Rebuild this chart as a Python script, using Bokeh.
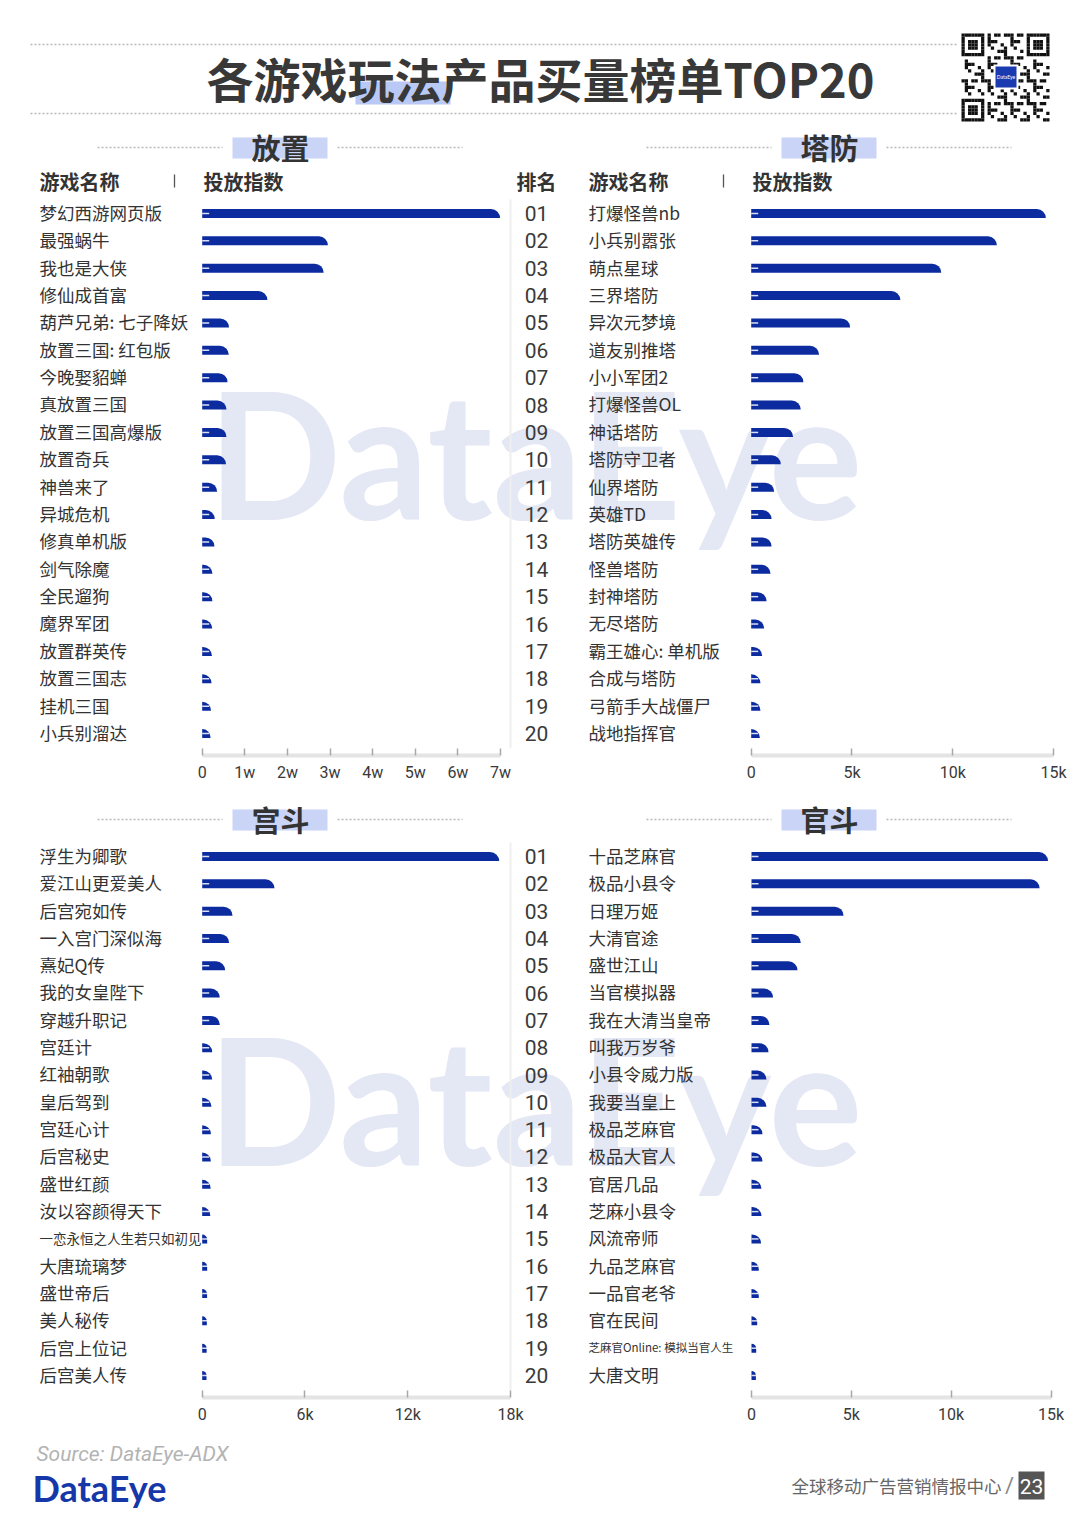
from bokeh.plotting import figure
from bokeh.layouts import column, row
from bokeh.models import Range1d, FixedTicker
from bokeh.core.properties import value
from bokeh.embed import file_html
from bokeh.resources import INLINE

# ---------------- data ----------------
title_text = "各游戏玩法产品买量榜单TOP20"
section_titles = ["放置", "塔防", "宫斗", "官斗"]
col_name_header = "游戏名称"
col_value_header = "投放指数"
rank_header = "排名"
rank_labels = ["01", "02", "03", "04", "05", "06", "07", "08", "09", "10",
               "11", "12", "13", "14", "15", "16", "17", "18", "19", "20"]

idle_names = ["梦幻西游网页版", "最强蜗牛", "我也是大侠", "修仙成首富", "葫芦兄弟: 七子降妖",
              "放置三国: 红包版", "今晚娶貂蝉", "真放置三国", "放置三国高爆版", "放置奇兵",
              "神兽来了", "异城危机", "修真单机版", "剑气除魔", "全民遛狗",
              "魔界军团", "放置群英传", "放置三国志", "挂机三国", "小兵别溜达"]
idle_vals = [69900, 29500, 28500, 15300, 6300, 6250, 5950, 5700, 5700, 5600,
             3500, 2950, 2880, 2420, 2380, 2350, 2300, 2200, 2050, 1950]

td_names = ["打爆怪兽nb", "小兵别嚣张", "萌点星球", "三界塔防", "异次元梦境",
            "道友别推塔", "小小军团2", "打爆怪兽OL", "神话塔防", "塔防守卫者",
            "仙界塔防", "英雄TD", "塔防英雄传", "怪兽塔防", "封神塔防",
            "无尽塔防", "霸王雄心: 单机版", "合成与塔防", "弓箭手大战僵尸", "战地指挥官"]
td_vals = [14620, 12190, 9430, 7400, 4910, 3370, 2590, 2460, 2080, 1470,
           1140, 1010, 1010, 960, 760, 645, 545, 460, 460, 430]

palace_names = ["浮生为卿歌", "爱江山更爱美人", "后宫宛如传", "一入宫门深似海", "熹妃Q传",
                "我的女皇陛下", "穿越升职记", "宫廷计", "红袖朝歌", "皇后驾到",
                "宫廷心计", "后宫秘史", "盛世红颜", "汝以容颜得天下", "一恋永恒之人生若只如初见",
                "大唐琉璃梦", "盛世帝后", "美人秘传", "后宫上位记", "后宫美人传"]
palace_vals = [17340, 4220, 1770, 1575, 1340, 1030, 1030, 585, 585, 545,
               505, 500, 490, 470, 290, 290, 285, 270, 260, 250]

official_names = ["十品芝麻官", "极品小县令", "日理万姬", "大清官途", "盛世江山",
                  "当官模拟器", "我在大清当皇帝", "叫我万岁爷", "小县令威力版", "我要当皇上",
                  "极品芝麻官", "极品大官人", "官居几品", "芝麻小县令", "风流帝师",
                  "九品芝麻官", "一品官老爷", "官在民间", "芝麻官Online: 模拟当官人生", "大唐文明"]
official_vals = [14850, 14430, 4610, 2470, 2305, 1085, 900, 850, 750, 750,
                 550, 550, 500, 500, 480, 365, 365, 285, 235, 220]

idle_ticks = [0, 10000, 20000, 30000, 40000, 50000, 60000, 70000]
idle_tick_labels = ["0", "1w", "2w", "3w", "4w", "5w", "6w", "7w"]
td_ticks = [0, 5000, 10000, 15000]
td_tick_labels = ["0", "5k", "10k", "15k"]
palace_ticks = [0, 6000, 12000, 18000]
palace_tick_labels = ["0", "6k", "12k", "18k"]
official_ticks = [0, 5000, 10000, 15000]
official_tick_labels = ["0", "5k", "10k", "15k"]

source_text = "Source: DataEye-ADX"
brand_text = "DataEye"
footer_text = "全球移动广告营销情报中心"
page_no = "23"

# ---------------- style ----------------
CJK = "Noto Sans CJK SC"
NUM = "Roboto"
COND = "Roboto"
DARK = "#333333"
BAR = "#0b2b9f"
WM = "#e4e7f4"
HL = "#c9d4f6"
DOT = "#b8b8b8"
AXB = 35
TICK_IN = 7
PAGE_W = 1080
SPLIT = 565
small_name_sizes = {"一恋永恒之人生若只如初见": "13.5px", "芝麻官Online: 模拟当官人生": "11.5px"}


def txt(p, xs, ys, texts, size, color=DARK, font=CJK, style="normal", align="left",
        baseline="middle", x_offset=0, rn="default"):
    p.text(x=xs, y=ys, text=texts, text_font=value(font), text_font_size=size,
           text_color=color, text_font_style=style, text_align=align,
           text_baseline=baseline, x_offset=x_offset, x_range_name=rn)


def scale(zero_px, max_px, max_val):
    k = max_val / (max_px - zero_px)
    return lambda px: (px - zero_px) * k


def page_fig(y0, y1):
    p = figure(width=PAGE_W, height=y1 - y0, x_range=Range1d(0, PAGE_W), y_range=Range1d(y1, y0),
               output_backend="svg", toolbar_location=None, x_axis_location=None,
               y_axis_location=None, min_border=0)
    p.outline_line_color = None
    p.grid.visible = False
    return p


def body(fy0, fy1, row1, row20, charts, head_y, with_headers, wm_top):
    XL = charts[0]["X"]
    XR = charts[1]["X"]
    step = (row20 - row1) / (len(rank_labels) - 1)

    def Y(py):
        return 1 + (py - row1) / step

    p = figure(width=PAGE_W, height=fy1 - fy0,
               x_range=Range1d(XL(0), XL(PAGE_W)), y_range=Range1d(Y(fy1), Y(fy0)),
               output_backend="svg", toolbar_location=None, x_axis_location=None,
               y_axis_location=None, min_border=0)
    p.extra_x_ranges = {"r": Range1d(XR(0), XR(PAGE_W))}
    p.outline_line_color = None
    p.grid.visible = False

    # watermark
    txt(p, [XL(207)], [Y(wm_top)], [brand_text], "176px", color=WM, font="Lato",
        style="bold", baseline="middle")
    # faint separator
    p.segment(x0=[XL(510)], x1=[XL(510)], y0=[Y(row1 - 14)], y1=[Y(fy1)],
              line_color="#efefef", line_width=2)

    for c, rn in zip(charts, ["default", "r"]):
        X = c["X"]
        cx, nx = c["head_cx"], c["name_x"]
        p.quad(left=[X(cx - 48)], right=[X(cx + 47)], top=[Y(head_y - 10)],
               bottom=[Y(head_y + 11)], fill_color=HL, line_color=None, x_range_name=rn)
        txt(p, [X(cx)], [Y(head_y - 1)], [c["heading"]], "29px", style="bold", align="center", rn=rn)
        p.segment(x0=[X(cx - 183), X(cx + 57)], x1=[X(cx - 58), X(cx + 182)],
                  y0=[Y(head_y)] * 2, y1=[Y(head_y)] * 2, line_color=DOT, line_width=1.3,
                  line_dash="2 2", x_range_name=rn)
        if with_headers:
            hy = 181
            txt(p, [X(nx)], [Y(hy)], [col_name_header], "20px", style="bold", rn=rn)
            txt(p, [X(nx + 164)], [Y(hy)], [col_value_header], "20px", style="bold", rn=rn)
            p.segment(x0=[X(nx + 135)], x1=[X(nx + 135)], y0=[Y(hy - 7)], y1=[Y(hy + 6)],
                      line_color="#555555", line_width=1.3, x_range_name=rn)

        names, vals = c["names"], c["vals"]
        ys = list(range(1, len(names) + 1))
        p.hbar(y=ys, left=0, right=vals, height=9 / step, fill_color=BAR, line_color=None,
               border_radius=dict(top_left=0, top_right=9, bottom_right=0, bottom_left=0),
               x_range_name=rn)
        p.segment(x0=[0] * len(ys), x1=[X(c["zero"] + 7)] * len(ys), y0=ys, y1=ys,
                  line_color="white", line_width=1.5, line_alpha=0.85, x_range_name=rn)
        sizes = [small_name_sizes.get(n, "17.5px") for n in names]
        txt(p, [X(nx)] * len(ys), [y - 0.04 for y in ys], names, sizes, rn=rn)

    if with_headers:
        txt(p, [XL(536)], [Y(181)], [rank_header], "20px", style="bold", align="center")
    ys = list(range(1, len(rank_labels) + 1))
    txt(p, [XL(536)] * len(ys), ys, rank_labels, "21px", color="#3a3a3a", font=COND, align="center")
    return p


def axis_fig(fx0, fx1, fy0, fy1, X, ticks, labels):
    p = figure(width=fx1 - fx0, height=fy1 - fy0, x_range=Range1d(X(fx0), X(fx1)),
               y_range=Range1d(0, 1), output_backend="svg", toolbar_location=None,
               y_axis_location=None, min_border_left=0, min_border_right=0,
               min_border_top=0, min_border_bottom=AXB)
    p.outline_line_color = None
    p.grid.visible = False
    ax = p.xaxis[0]
    ax.ticker = FixedTicker(ticks=ticks)
    ax.major_label_overrides = {t: l for t, l in zip(ticks, labels)}
    ax.bounds = (0, ticks[-1])
    ax.axis_line_color = "#e4e4e4"
    ax.axis_line_width = 4
    ax.major_tick_in = TICK_IN
    ax.major_tick_out = 0
    ax.major_tick_line_color = "#a8a8a8"
    ax.major_tick_line_width = 1.5
    ax.minor_tick_line_color = None
    ax.major_label_text_font = NUM
    ax.major_label_text_font_size = "16px"
    ax.major_label_text_color = "#3a3a3a"
    ax.major_label_standoff = 7
    return p


# ---------------- header ----------------
hdr = page_fig(0, 125)
hdr.segment(x0=[30, 30], x1=[957, 957], y0=[44, 113], y1=[44, 113], line_color=DOT,
            line_width=1.3, line_dash="2 2")
hdr.quad(left=[355], right=[450], top=[81], bottom=[104], fill_color="#b9c8f4", line_color=None)
txt(hdr, [540], [77], [title_text], "47px", color="#383838", style="bold", align="center")

# QR-like decoration
n = 27
q0x, q0y, qs = 961.0, 33.0, 88.0 / 27
L, R, T, B = [], [], [], []


def finder(i, j):
    for (fi, fj) in [(0, 0), (0, n - 7), (n - 7, 0)]:
        if fi <= i < fi + 7 and fj <= j < fj + 7:
            a, b = i - fi, j - fj
            ring = a in (0, 6) or b in (0, 6)
            core = 2 <= a <= 4 and 2 <= b <= 4
            return 1 if (ring or core) else 0
        if fi - 1 <= i <= fi + 7 and fj - 1 <= j <= fj + 7:
            return 0
    return None


for i in range(n):
    for j in range(n):
        f = finder(i, j)
        if f is None:
            f = 1 if ((i * i * 3 + j * 7 + i * j * 5 + j * j) % 7) < 3 else 0
        if f:
            L.append(q0x + j * qs)
            R.append(q0x + (j + 1) * qs)
            T.append(q0y + i * qs)
            B.append(q0y + (i + 1) * qs)
hdr.quad(left=L, right=R, top=T, bottom=B, fill_color="#111111", line_color=None)
hdr.quad(left=[993], right=[1018], top=[64], bottom=[89], fill_color="white", line_color=None)
hdr.quad(left=[995], right=[1016], top=[66], bottom=[87], fill_color="#1a3bb0", line_color=None)
txt(hdr, [1005.5], [76.5], ["DataEye"], "5px", color="white", font="Lato", align="center")

# ---------------- charts ----------------
top_charts = [
    dict(X=scale(201.7, 500.0, idle_ticks[-1]), zero=201.7, names=idle_names, vals=idle_vals,
         heading=section_titles[0], head_cx=280, name_x=39),
    dict(X=scale(750.7, 1053.0, td_ticks[-1]), zero=750.7, names=td_names, vals=td_vals,
         heading=section_titles[1], head_cx=829, name_x=588),
]
bot_charts = [
    dict(X=scale(201.7, 510.0, palace_ticks[-1]), zero=201.7, names=palace_names, vals=palace_vals,
         heading=section_titles[2], head_cx=280, name_x=39),
    dict(X=scale(751.0, 1050.5, official_ticks[-1]), zero=751.0, names=official_names,
         vals=official_vals, heading=section_titles[3], head_cx=829, name_x=588),
]

TOP_AX = 755
BOT_AX = 1397
top_body = body(125, TOP_AX - TICK_IN, 213, 733, top_charts, 147, True, 451)
top_axes = row(axis_fig(0, SPLIT, TOP_AX - TICK_IN, TOP_AX + AXB, top_charts[0]["X"],
                        idle_ticks, idle_tick_labels),
               axis_fig(SPLIT, PAGE_W, TOP_AX - TICK_IN, TOP_AX + AXB, top_charts[1]["X"],
                        td_ticks, td_tick_labels),
               spacing=0)
bot_body = body(TOP_AX + AXB, BOT_AX - TICK_IN, 856, 1375, bot_charts, 819, False, 1097)
bot_axes = row(axis_fig(0, SPLIT, BOT_AX - TICK_IN, BOT_AX + AXB, bot_charts[0]["X"],
                        palace_ticks, palace_tick_labels),
               axis_fig(SPLIT, PAGE_W, BOT_AX - TICK_IN, BOT_AX + AXB, bot_charts[1]["X"],
                        official_ticks, official_tick_labels),
               spacing=0)

# ---------------- footer ----------------
ftr = page_fig(BOT_AX + AXB, 1524)
txt(ftr, [36], [1453], [source_text], "21px", color="#b3b3b3", font=NUM, style="italic")
txt(ftr, [32], [1487], [brand_text], "36px", color="#1637a8", font="Lato", style="bold")
txt(ftr, [1001], [1485], [footer_text], "17.5px", color="#666666", align="right")
txt(ftr, [1009], [1485], ["/"], "22px", color="#888888", font=NUM, align="center")
ftr.quad(left=[1018], right=[1044], top=[1471], bottom=[1499], fill_color="#555555", line_color=None)
txt(ftr, [1031], [1486], [page_no], "21px", color="white", font=COND, align="center")

layout = column(hdr, top_body, top_axes, bot_body, bot_axes, ftr, spacing=0)

open("out.html", "w").write(file_html(layout, INLINE))
